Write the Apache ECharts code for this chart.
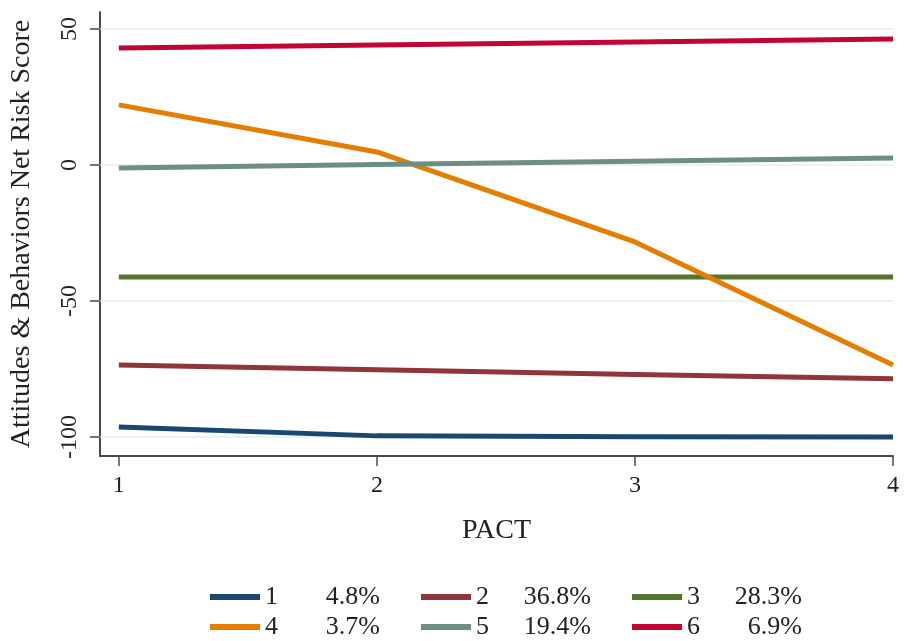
<!DOCTYPE html>
<html>
<head>
<meta charset="utf-8">
<script src="https://cdn.jsdelivr.net/npm/echarts@6/dist/echarts.min.js"></script>
<style>
  html, body { margin: 0; padding: 0; background: #fff; }
  #chart { width: 904px; height: 641px; }
</style>
</head>
<body>
<div id="chart"></div>
<script>
// PACT levels on the x axis
const pactLevels = [1, 2, 3, 4];

// Net risk score by latent class across PACT levels
const class1 = [-96.3, -99.6, -99.9, -100.0];
const class2 = [-73.5, -75.3, -77.0, -78.6];
const class3 = [-41.2, -41.2, -41.2, -41.2];
const class4 = [22.1, 4.8, -28.3, -73.5];
const class5 = [-1.1, 0.2, 1.4, 2.6];
const class6 = [43.0, 44.1, 45.2, 46.3];

// Class labels and their shares
const classNames = ['1', '2', '3', '4', '5', '6'];
const classShares = ['4.8%', '36.8%', '28.3%', '3.7%', '19.4%', '6.9%'];
const classColors = ['#1a476f', '#90353b', '#55752f', '#e37e00', '#6e8e84', '#c10534'];

// Tick values
const yTicks = [-100, -50, 0, 50];
const xTicks = [1, 2, 3, 4];

const seriesValues = [class1, class2, class3, class4, class5, class6];

const serif = '"Liberation Serif", "DejaVu Serif", serif';
const textColor = '#222';

const series = seriesValues.map((vals, i) => ({
  name: classNames[i],
  type: 'line',
  data: vals.map((v, j) => [pactLevels[j], v]),
  showSymbol: false,
  symbol: 'none',
  lineStyle: { width: 5, color: classColors[i], cap: 'butt', join: 'round' },
  itemStyle: { color: classColors[i] },
  z: 10 + i
}));

// faint horizontal reference lines at the y tick values, kept beneath the class lines
series.push({
  name: 'grid',
  type: 'line',
  data: [],
  z: 1,
  markLine: {
    silent: true,
    symbol: 'none',
    z: 1,
    label: { show: false },
    lineStyle: { color: '#e4ecf1', width: 1.5, type: 'solid' },
    data: yTicks.map(v => ({ yAxis: v }))
  }
});

const legendRich = {
  n: { width: 47, fontFamily: serif, fontSize: 26, color: textColor },
  p: { width: 68, align: 'right', fontFamily: serif, fontSize: 26, color: textColor }
};
function legendFormatter(name) {
  const idx = classNames.indexOf(name);
  return '{n|' + name + '}{p|' + classShares[idx] + '}';
}
function makeLegend(names, top) {
  return {
    data: names,
    left: 205,
    top: top,
    orient: 'horizontal',
    itemWidth: 50,
    itemHeight: 6,
    itemGap: 41,
    icon: 'rect',
    selectedMode: false,
    formatter: legendFormatter,
    textStyle: { fontFamily: serif, fontSize: 26, color: textColor, rich: legendRich }
  };
}

const option = {
  animation: false,
  backgroundColor: '#ffffff',
  grid: { left: 98, right: 11, top: 12, bottom: 185, containLabel: false },
  legend: [
    makeLegend(classNames.slice(0, 3), 579),
    makeLegend(classNames.slice(3, 6), 609)
  ],
  xAxis: {
    type: 'value',
    min: 0.927,
    max: 4,
    name: 'PACT',
    nameLocation: 'middle',
    nameGap: 61,
    nameTextStyle: { fontFamily: serif, fontSize: 28, color: textColor },
    axisLine: { show: true, onZero: false, lineStyle: { color: '#4a4a4a', width: 2 } },
    axisTick: { show: true, length: 10, customValues: xTicks, lineStyle: { color: '#4a4a4a', width: 1.5 } },
    axisLabel: { customValues: xTicks, margin: 18, fontFamily: serif, fontSize: 24, color: textColor },
    splitLine: { show: false }
  },
  yAxis: {
    type: 'value',
    min: -107,
    max: 56.25,
    name: 'Attitudes & Behaviors Net Risk Score',
    nameLocation: 'middle',
    nameGap: 64,
    nameRotate: 90,
    nameTextStyle: { fontFamily: serif, fontSize: 28, color: textColor },
    axisLine: { show: true, onZero: false, lineStyle: { color: '#4a4a4a', width: 2 } },
    axisTick: { show: true, length: 10, customValues: yTicks, lineStyle: { color: '#4a4a4a', width: 1.5 } },
    axisLabel: { customValues: yTicks, rotate: 90, margin: 18, fontFamily: serif, fontSize: 24, color: textColor },
    splitLine: { show: false }
  },
  series: series
};

const chart = echarts.init(document.getElementById('chart'), null, { renderer: 'canvas' });
chart.setOption(option);
</script>
</body>
</html>
